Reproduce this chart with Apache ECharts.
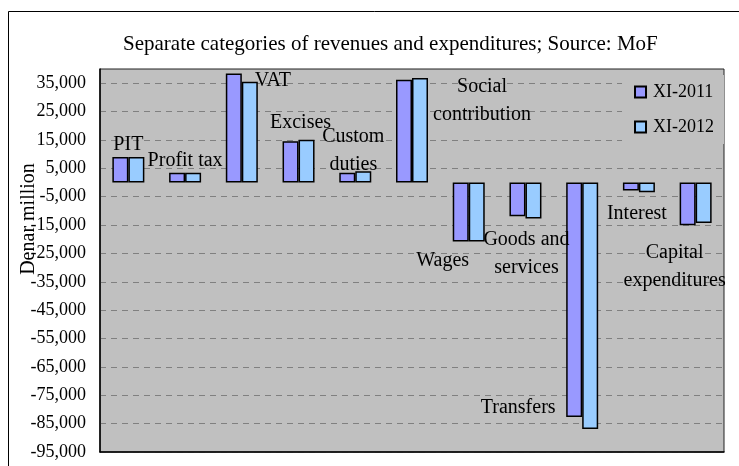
<!DOCTYPE html>
<html>
<head>
<meta charset="utf-8">
<script src="https://cdn.jsdelivr.net/npm/echarts@6/dist/echarts.min.js"></script>
<style>
  html, body { margin: 0; padding: 0; background: #fff; }
  #chart { width: 739px; height: 466px; }
</style>
</head>
<body>
<div id="chart"></div>
<script>
// values, denar million
const categories = ['PIT', 'Profit tax', 'VAT', 'Excises', 'Custom\nduties', 'Social\ncontribution',
  'Wages', 'Goods and\nservices', 'Transfers', 'Interest', 'Capital\nexpenditures'];
const xi2011 = [9000, 3400, 38400, 14500, 3400, 36200, -20800, -11900, -82700, -2800, -15100];
const xi2012 = [9000, 3400, 35500, 15100, 4000, 36800, -20800, -12700, -86900, -3400, -14300];
const yTicks = [-95000, -85000, -75000, -65000, -55000, -45000, -35000, -25000,
  -15000, -5000, 5000, 15000, 25000, 35000];

// where the category name sits next to its pair of bars: [side, dx, dy]
const labelSpots = [
  ['top', 8, 2], ['top', 8, 2], ['top', 39, 21], ['top', 10, -5], ['top', 6, 6], ['top', 78, 49],
  ['bottom', -18, 5], ['bottom', 9, 10], ['bottom', -56, -23], ['bottom', 6, 9], ['bottom', -13, 13]
];

const serif = 'Liberation Serif';

const chart = echarts.init(document.getElementById('chart'));

const firstData = xi2011.map((v, i) => ({
  value: v,
  label: {
    position: labelSpots[i][0],
    offset: [labelSpots[i][1], labelSpots[i][2]]
  }
}));

chart.setOption({
  animation: false,
  title: {
    text: 'Separate categories of revenues and expenditures; Source: MoF',
    left: 118,
    top: 29,
    textStyle: { fontFamily: serif, fontSize: 21, fontWeight: 'normal', color: '#000' }
  },
  legend: {
    orient: 'vertical',
    right: 15,
    top: 75,
    padding: [8, 10, 8, 12],
    backgroundColor: '#c0c0c0',
    itemWidth: 11,
    itemHeight: 11,
    itemGap: 17,
    icon: 'rect',
    textStyle: { fontFamily: serif, fontSize: 18, color: '#000', padding: [0, 0, 0, 2] },
    data: ['XI-2011', 'XI-2012']
  },
  grid: {
    left: 100, top: 69, right: 15, bottom: 14,
    show: true,
    backgroundColor: '#c0c0c0',
    borderColor: '#222',
    borderWidth: 1
  },
  xAxis: {
    type: 'category',
    data: categories,
    axisLine: { onZero: false, lineStyle: { color: '#000', width: 1.5 } },
    axisTick: { show: false },
    axisLabel: { show: false }
  },
  yAxis: {
    type: 'value',
    min: -95000,
    max: 40000,
    axisLine: { show: true, lineStyle: { color: '#000', width: 1.5 } },
    axisTick: { show: false, customValues: yTicks },
    axisLabel: {
      customValues: yTicks,
      fontFamily: serif,
      fontSize: 18,
      color: '#000',
      margin: 14,
      formatter: v => v.toLocaleString('en-US')
    },
    splitLine: { show: true, lineStyle: { color: '#808080', type: [6, 5], width: 1 } }
  },
  graphic: [
    {
      type: 'rect',
      z: -10,
      shape: { x: 8.5, y: 11.5, width: 760, height: 480 },
      style: { fill: 'none', stroke: '#000', lineWidth: 1 }
    },
    {
      type: 'text',
      x: 29,
      y: 219,
      rotation: Math.PI / 2,
      style: {
        text: 'Denar million',
        font: '20px "Liberation Serif"',
        fill: '#000',
        align: 'center',
        verticalAlign: 'middle'
      }
    }
  ],
  series: [
    {
      name: 'XI-2011',
      type: 'bar',
      data: firstData,
      barWidth: 16,
      barGap: '0%',
      itemStyle: { color: '#9999ff', borderColor: '#000', borderWidth: 1.5 },
      label: {
        show: true,
        formatter: '{b}',
        distance: 0,
        fontFamily: serif,
        fontSize: 20,
        lineHeight: 28,
        color: '#000'
      }
    },
    {
      name: 'XI-2012',
      type: 'bar',
      data: xi2012,
      barWidth: 16,
      itemStyle: { color: '#99ccff', borderColor: '#000', borderWidth: 1.5 }
    }
  ]
});
</script>
</body>
</html>
